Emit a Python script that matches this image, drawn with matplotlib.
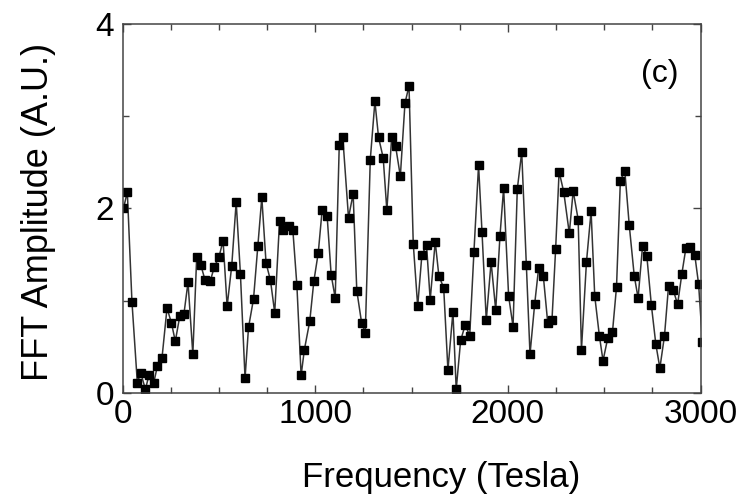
import matplotlib
matplotlib.use("Agg")
import matplotlib.pyplot as plt
from matplotlib.ticker import MultipleLocator

plt.rcParams['font.family'] = ['Liberation Sans', 'DejaVu Sans']

freq = [5, 25, 49, 77, 94, 119, 138, 162, 181, 205, 231, 254, 274, 297, 319, 340, 365, 385,
        406, 429, 455, 477, 500, 522, 543, 567, 590, 612, 636, 654, 680, 702, 723, 745, 768,
        790, 815, 834, 863, 884, 905, 927, 944, 972, 993, 1016, 1036, 1062, 1083, 1104, 1125,
        1143, 1173, 1197, 1216, 1241, 1260, 1286, 1310, 1329, 1353, 1372, 1397, 1417, 1442,
        1466, 1487, 1509, 1532, 1554, 1578, 1597, 1623, 1642, 1667, 1689, 1715, 1732, 1755,
        1779, 1802, 1824, 1848, 1866, 1888, 1913, 1937, 1959, 1978, 2004, 2027, 2049, 2072,
        2096, 2115, 2139, 2160, 2184, 2207, 2229, 2248, 2266, 2290, 2319, 2339, 2365, 2382,
        2408, 2432, 2451, 2475, 2494, 2519, 2543, 2564, 2584, 2607, 2630, 2656, 2676, 2699,
        2721, 2745, 2768, 2789, 2813, 2834, 2858, 2881, 2903, 2924, 2947, 2970, 2990, 3010]

amplitude = [2.00, 2.18, 0.99, 0.11, 0.22, 0.04, 0.20, 0.11, 0.29, 0.38, 0.92, 0.76, 0.56,
             0.83, 0.86, 1.20, 0.42, 1.47, 1.39, 1.22, 1.21, 1.37, 1.47, 1.65, 0.94, 1.38,
             2.07, 1.29, 0.16, 0.71, 1.02, 1.59, 2.12, 1.41, 1.22, 0.87, 1.86, 1.77, 1.81,
             1.77, 1.17, 0.19, 0.47, 0.78, 1.21, 1.52, 1.98, 1.92, 1.28, 1.03, 2.69, 2.78,
             1.90, 2.16, 1.11, 0.76, 0.65, 2.53, 3.16, 2.77, 2.55, 1.98, 2.77, 2.68, 2.35,
             3.14, 3.33, 1.62, 0.94, 1.50, 1.60, 1.01, 1.64, 1.27, 1.14, 0.25, 0.88, 0.04,
             0.57, 0.74, 0.62, 1.53, 2.47, 1.74, 0.79, 1.42, 0.90, 1.70, 2.22, 1.05, 0.72,
             2.21, 2.61, 1.39, 0.42, 0.96, 1.36, 1.27, 0.76, 0.79, 1.56, 2.40, 2.18, 1.73,
             2.19, 1.88, 0.47, 1.42, 1.97, 1.05, 0.62, 0.35, 0.60, 0.66, 1.15, 2.30, 2.41,
             1.82, 1.27, 1.03, 1.59, 1.49, 0.95, 0.53, 0.27, 0.62, 1.16, 1.12, 0.96, 1.29,
             1.57, 1.58, 1.50, 1.18, 0.55]

xticks = [0, 1000, 2000, 3000]
yticks = [0, 2, 4]

fig = plt.figure(figsize=(7.42, 5.03), dpi=100)
ax = fig.add_axes([0.1651, 0.2187, 0.7790, 0.7336])

ax.plot(freq, amplitude, color='#333333', lw=1.1, marker='s', markersize=6.4,
        markerfacecolor='black', markeredgecolor='black', clip_on=True)

ax.set_xlim(0, 3000)
ax.set_ylim(0, 4)
ax.set_xticks(xticks)
ax.set_yticks(yticks)
ax.xaxis.set_minor_locator(MultipleLocator(250))
ax.yaxis.set_minor_locator(MultipleLocator(1))
ax.tick_params(which='both', direction='in', top=True, right=True, labelsize=24,
               color='#444444', width=1)
ax.tick_params(which='major', length=6, pad=4)
ax.tick_params(which='minor', length=4)
ax.tick_params(axis='y', which='major', pad=6)
for s in ax.spines.values():
    s.set_color('#444444')
    s.set_linewidth(1.1)

ax.set_xlabel('Frequency (Tesla)', fontsize=25)
ax.xaxis.set_label_coords(0.551, -0.185)
ax.set_ylabel('FFT Amplitude (A.U.)', fontsize=26)
ax.yaxis.set_label_coords(-0.115, 0.49)
ax.text(0.93, 0.865, '(c)', transform=ax.transAxes, fontsize=23,
        ha='center', va='center')

fig.savefig('out.png', dpi=100)
